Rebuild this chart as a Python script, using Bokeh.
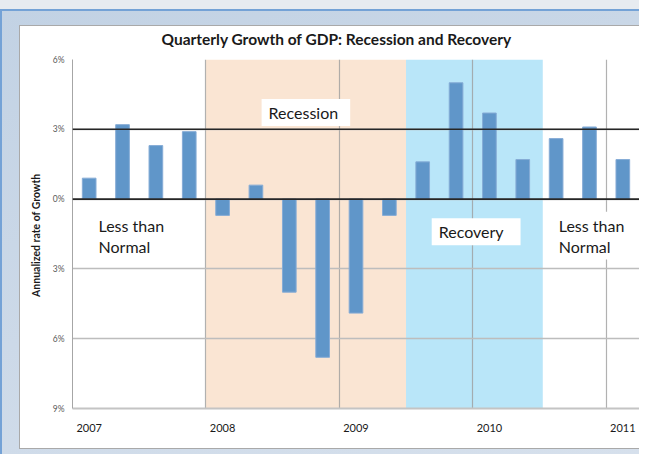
from bokeh.plotting import figure
from bokeh.models import FixedTicker, Span, Label, BoxAnnotation, Range1d
from bokeh.embed import file_html
from bokeh.resources import INLINE

# ---- data ----
quarters = ["2007 Q1", "2007 Q2", "2007 Q3", "2007 Q4",
            "2008 Q1", "2008 Q2", "2008 Q3", "2008 Q4",
            "2009 Q1", "2009 Q2", "2009 Q3", "2009 Q4",
            "2010 Q1", "2010 Q2", "2010 Q3", "2010 Q4",
            "2011 Q1"]
growth = [0.9, 3.2, 2.3, 2.9,
          -0.7, 0.6, -4.0, -6.8,
          -4.9, -0.7, 1.6, 5.0,
          3.7, 1.7, 2.6, 3.1,
          1.7]
year_labels = ["2007", "2008", "2009", "2010", "2011"]
year_first_quarter = [0, 4, 8, 12, 16]
year_boundaries = [3.5, 7.5, 11.5, 15.5]
y_ticks = [-9, -6, -3, 0, 3, 6]
y_tick_labels = ["9%", "6%", "3%", "0%", "3%", "6%"]
reference_lines = [0, 3]
recession_period = [3.5, 9.5]
recovery_period = [9.5, 13.6]

x_idx = list(range(len(quarters)))

FONT = "Lato"

backdrop = ("linear-gradient(#ffffff,#ffffff) 20px 26px / 640px 422px no-repeat, "
            "linear-gradient(#a9a9a9,#a9a9a9) 19px 25px / 640px 424px no-repeat, "
            "linear-gradient(160deg, #c2d2e4, #d6e0ec) 2px 11px / 640px 443px no-repeat, "
            "linear-gradient(#74a2d6,#74a2d6) 0px 9px / 640px 445px no-repeat, "
            "#e7ebf0")

p = figure(width=639, height=454, output_backend="svg", toolbar_location=None,
           x_range=Range1d(-0.5, len(quarters) - 0.5), y_range=Range1d(-9, 6),
           min_border_left=72, min_border_right=0, min_border_top=59,
           min_border_bottom=46,
           styles={"background": backdrop})
p.border_fill_alpha = 0
p.background_fill_color = "white"
p.outline_line_color = None

# title
p.title.text = "Quarterly Growth of GDP: Recession and Recovery"
p.title.text_font = FONT
p.title.text_font_size = "15.5px"
p.title.text_font_style = "bold"
p.title.text_color = "#1a1a1a"
p.title.align = "left"
p.title.offset = 89
p.title.standoff = 24

# shaded periods
p.add_layout(BoxAnnotation(left=recession_period[0], right=recession_period[1],
                           fill_color="#fae5d3", fill_alpha=1, line_color=None,
                           level="image"))
p.add_layout(BoxAnnotation(left=recovery_period[0], right=recovery_period[1],
                           fill_color="#b9e6f9", fill_alpha=1, line_color=None,
                           level="image"))

# bars
p.vbar(x=x_idx, top=growth, bottom=0, width=0.41,
       fill_color="#6096c9", line_color="#86acd6", line_width=1)

# reference lines
for v in reference_lines:
    p.add_layout(Span(location=v, dimension="width", line_color="#262626",
                      line_width=1.6))

# axes
p.xaxis.ticker = FixedTicker(ticks=year_first_quarter)
p.xaxis.major_label_overrides = {t: l for t, l in zip(year_first_quarter, year_labels)}
p.xaxis.major_tick_line_color = None
p.xaxis.major_tick_out = 0
p.xaxis.major_tick_in = 0
p.xaxis.minor_tick_line_color = None
p.xaxis.axis_line_color = "#c4c4c4"
p.xaxis.axis_line_width = 2
p.xaxis.major_label_standoff = 15
p.xaxis.major_label_text_font = FONT
p.xaxis.major_label_text_font_size = "11px"
p.xaxis.major_label_text_color = "#1a1a1a"

p.yaxis.ticker = FixedTicker(ticks=y_ticks)
p.yaxis.major_label_overrides = {t: l for t, l in zip(y_ticks, y_tick_labels)}
p.yaxis.major_tick_line_color = None
p.yaxis.major_tick_out = 0
p.yaxis.major_tick_in = 0
p.yaxis.minor_tick_line_color = None
p.yaxis.axis_line_color = "#a6a6a6"
p.yaxis.axis_line_width = 1
p.yaxis.major_label_standoff = 8
p.yaxis.major_label_text_font = FONT
p.yaxis.major_label_text_font_size = "8.5px"
p.yaxis.major_label_text_color = "#595959"
p.yaxis.axis_label = "Annualized  rate of Growth"
p.yaxis.axis_label_text_font = FONT
p.yaxis.axis_label_text_font_size = "10.5px"
p.yaxis.axis_label_text_font_style = "bold"
p.yaxis.axis_label_text_color = "#1a1a1a"
p.yaxis.axis_label_standoff = 8

# grids
p.ygrid.ticker = FixedTicker(ticks=y_ticks)
p.ygrid.grid_line_color = "#bdbdbd"
p.ygrid.grid_line_width = 1.5
p.xgrid.ticker = FixedTicker(ticks=year_boundaries)
p.xgrid.grid_line_color = "#9e9e9e"
p.xgrid.grid_line_width = 1.2
p.xgrid.grid_line_alpha = 0.8

# annotations
common = dict(text_font=FONT, text_font_size="16px", text_color="#1a1a1a",
              text_align="left", text_baseline="middle", text_line_height=1.1)
p.add_layout(Label(x=5.17, y=3.72, text="Recession", background_fill_color="white",
                   padding={"left": 7, "right": 12, "top": 4, "bottom": 4}, **common))
p.add_layout(Label(x=10.27, y=-1.40, text="Recovery", background_fill_color="white",
                   padding={"left": 7, "right": 17, "top": 4, "bottom": 4}, **common))
p.add_layout(Label(x=0.28, y=-1.57, text="Less than\nNormal", **common))
p.add_layout(Label(x=13.9, y=-1.57, text="Less than\nNormal",
                   background_fill_color="white",
                   padding={"left": 6, "right": 8, "top": 4, "bottom": 4}, **common))

open("out.html", "w").write(file_html(p, INLINE))
